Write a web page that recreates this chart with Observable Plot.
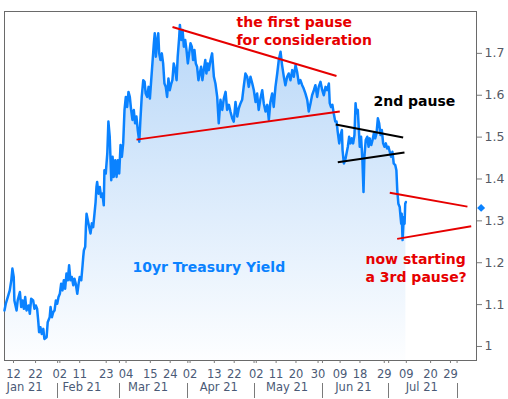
<!DOCTYPE html>
<html><head><meta charset="utf-8">
<script src="https://cdn.jsdelivr.net/npm/d3@7"></script>
<script src="https://cdn.jsdelivr.net/npm/@observablehq/plot@0.6"></script>
<style>body{margin:0;background:#fff}</style>
</head><body><div id="chart"></div>
<script>
// day-of-year (2021, fractional = intraday) and 10yr yield readings
const doy = [7.9,8.5,9.4,10.3,11.0,11.5,12.1,12.4,13.4,13.9,14.9,15.5,16.1,16.7,17.3,17.9,18.8,19.4,20.0,20.9,21.5,22.1,22.7,23.2,23.6,24.2,24.8,25.5,26.0,27.0,27.5,28.4,28.8,29.4,30.0,30.6,31.2,31.8,32.4,33.0,33.6,34.2,34.8,35.4,36.0,36.6,37.2,37.8,38.4,39.1,39.6,40.2,40.9,41.5,42.0,42.7,43.3,43.6,43.9,44.5,44.8,45.1,45.7,46.3,46.9,47.5,48.1,48.7,49.2,49.6,49.9,50.5,51.1,51.7,52.3,52.9,53.2,53.8,54.5,55.0,55.6,56.3,56.9,57.4,58.1,58.7,59.3,59.9,60.5,61.1,61.7,62.3,62.9,63.5,64.1,64.7,65.3,65.9,66.5,67.1,67.7,68.3,69.0,69.5,70.1,70.8,71.4,71.9,72.6,73.2,73.8,74.4,75.0,75.6,76.0,76.5,77.1,77.6,78.0,78.6,79.2,79.8,80.4,81.0,81.6,82.2,82.8,83.5,84.0,84.6,85.3,85.9,86.4,87.1,87.4,88.0,88.6,89.2,89.8,90.4,91.0,91.6,92.2,92.8,93.4,94.0,94.6,95.2,95.8,96.4,97.0,97.6,98.2,98.9,99.4,100.0,100.5,101.3,102.0,102.8,103.5,104.3,105.0,105.8,106.6,107.3,108.1,108.8,109.6,110.3,111.1,111.8,112.6,113.4,114.1,114.9,115.6,116.3,117.1,117.9,118.6,119.4,120.2,120.9,121.7,122.4,123.1,123.9,124.7,125.4,126.2,127.0,127.7,128.4,129.2,129.9,130.7,131.5,132.2,133.0,133.7,134.5,135.2,136.0,136.7,137.5,138.3,139.0,139.8,140.5,141.3,142.0,142.8,143.5,144.3,145.1,145.8,146.6,147.3,148.1,148.8,149.6,150.3,151.1,151.9,152.6,153.4,154.1,154.9,155.3,155.9,156.5,157.1,157.8,158.4,158.9,159.6,160.2,160.8,161.1,161.7,162.3,162.9,163.5,164.1,164.7,165.3,165.9,166.5,167.0,167.4,168.0,168.5,168.9,169.5,170.1,170.6,171.0,171.6,172.3,172.9,173.4,174.1,174.7,175.3,175.9,176.5,177.1,177.7,178.3,178.9,179.5,180.1,180.7,181.3,181.9,182.5,183.1,183.7,184.3,185.0,185.5,185.9,186.4,187.0,187.4,187.7,187.9,188.3,188.6,188.9,189.2,189.5,189.8];
const yld = [1.086,1.102,1.118,1.134,1.158,1.186,1.166,1.110,1.086,1.110,1.130,1.094,1.110,1.090,1.118,1.086,1.098,1.078,1.114,1.110,1.090,1.098,1.090,1.062,1.034,1.046,1.030,1.042,1.018,1.022,1.058,1.070,1.094,1.070,1.082,1.086,1.110,1.102,1.118,1.126,1.150,1.134,1.158,1.138,1.174,1.158,1.194,1.158,1.166,1.146,1.162,1.150,1.126,1.150,1.166,1.158,1.194,1.214,1.230,1.238,1.285,1.317,1.301,1.285,1.270,1.294,1.285,1.317,1.345,1.381,1.393,1.365,1.381,1.357,1.365,1.337,1.421,1.413,1.461,1.537,1.501,1.397,1.453,1.405,1.445,1.405,1.445,1.413,1.481,1.453,1.485,1.565,1.596,1.572,1.608,1.596,1.565,1.541,1.565,1.533,1.549,1.517,1.489,1.541,1.596,1.636,1.632,1.604,1.596,1.620,1.592,1.636,1.680,1.724,1.748,1.692,1.732,1.748,1.700,1.684,1.700,1.676,1.628,1.620,1.596,1.640,1.612,1.628,1.636,1.676,1.660,1.636,1.692,1.740,1.768,1.732,1.756,1.716,1.732,1.708,1.676,1.700,1.724,1.716,1.684,1.708,1.676,1.668,1.636,1.652,1.668,1.636,1.660,1.684,1.652,1.676,1.660,1.684,1.700,1.644,1.628,1.596,1.533,1.589,1.565,1.592,1.608,1.565,1.577,1.561,1.545,1.537,1.584,1.549,1.569,1.581,1.589,1.620,1.652,1.644,1.620,1.644,1.628,1.612,1.584,1.604,1.565,1.592,1.612,1.581,1.561,1.577,1.541,1.584,1.604,1.572,1.620,1.652,1.684,1.704,1.672,1.644,1.624,1.644,1.652,1.636,1.660,1.644,1.672,1.656,1.628,1.636,1.624,1.616,1.604,1.589,1.561,1.581,1.600,1.612,1.624,1.596,1.620,1.632,1.612,1.600,1.620,1.612,1.628,1.581,1.572,1.577,1.557,1.537,1.537,1.513,1.485,1.505,1.517,1.469,1.437,1.445,1.461,1.477,1.501,1.485,1.497,1.485,1.505,1.581,1.557,1.565,1.517,1.477,1.501,1.445,1.369,1.453,1.493,1.501,1.477,1.497,1.481,1.493,1.509,1.497,1.509,1.545,1.533,1.505,1.517,1.485,1.477,1.485,1.473,1.477,1.465,1.453,1.465,1.437,1.433,1.421,1.373,1.341,1.333,1.309,1.293,1.317,1.254,1.285,1.309,1.293,1.341,1.345];

// last-value marker on the right axis
const lastDoy = [223.9];
const lastVal = [1.331];

// trend lines (start/end in day-of-year and yield)
const trendX1 = [84.04, 67.73, 158.04, 158.94, 182.5, 185.86];
const trendY1 = [1.763, 1.494, 1.530, 1.440, 1.367, 1.257];
const trendX2 = [158.35, 159.85, 188.57, 189.16, 217.7, 219.4];
const trendY2 = [1.646, 1.561, 1.499, 1.463, 1.334, 1.287];
const trendKind = ["red", "red", "black", "black", "red", "red"];

// annotations
const annoText = ["the first pause\nfor consideration", "2nd pause", "now starting\na 3rd pause?", "10yr Treasury Yield"];
const annoDoy = [113.04, 175.1, 171.5, 65.9];
const annoVal = [1.756, 1.589, 1.190, 1.192];
const annoKind = ["red", "black", "red", "blue"];

// axes
const tickDates = ["2021-01-12","2021-01-22","2021-02-02","2021-02-11","2021-02-23","2021-03-04","2021-03-15","2021-03-24","2021-04-02","2021-04-13","2021-04-22","2021-05-02","2021-05-11","2021-05-20","2021-05-30","2021-06-09","2021-06-18","2021-06-29","2021-07-09","2021-07-20","2021-07-29"];
const monthStarts = ["2021-02-01","2021-03-01","2021-04-01","2021-05-01","2021-06-01","2021-07-01","2021-08-01"];
const monthLabels = ["Jan 21","Feb 21","Mar 21","Apr 21","May 21","Jun 21","Jul 21"];
const monthLabelDates = ["2021-01-17","2021-02-12","2021-03-14","2021-04-15","2021-05-16","2021-06-15","2021-07-16"];
const yTicks = [1, 1.1, 1.2, 1.3, 1.4, 1.5, 1.6, 1.7];
const yDomain = [0.9665, 1.8];
const xDomainDoy = [7.92, 221.8];

const colors = {red: "#e60000", black: "#000000", blue: "#0a82ff"};
const axisText = "#4a5a76";
const axisLine = "#7a7a7a";

const dateOf = d => new Date(Date.UTC(2021, 0, 1) + (d - 1) * 864e5);
const iso = s => new Date(s + "T00:00:00Z");

const data = doy.map((d, i) => ({date: dateOf(d), value: yld[i]}));
const trends = trendX1.map((d, i) => ({x1: dateOf(d), y1: trendY1[i], x2: dateOf(trendX2[i]), y2: trendY2[i], c: colors[trendKind[i]]}));
const annos = annoText.map((t, i) => ({x: dateOf(annoDoy[i]), y: annoVal[i], text: t, c: colors[annoKind[i]]}));
const lastPt = lastDoy.map((d, i) => ({x: dateOf(d), y: lastVal[i]}));
const months = monthLabels.map((t, i) => ({x: iso(monthLabelDates[i]), text: t}));

const defs = () => {
  const s = d3.create("svg:defs");
  const g = s.append("linearGradient").attr("id", "yldGrad")
    .attr("x1", 0).attr("x2", 0).attr("y1", 0).attr("y2", 1);
  g.append("stop").attr("offset", "0%").attr("stop-color", "#b8d7f8");
  g.append("stop").attr("offset", "100%").attr("stop-color", "#fdfeff");
  return s.node();
};

const separators = (index, scales, values, dims) => {
  const g = d3.create("svg:g").attr("stroke", axisLine).attr("stroke-width", 1);
  const yb = dims.height - dims.marginBottom;
  for (const m of monthStarts) {
    const x = Math.round(scales.x(iso(m))) + 0.5;
    g.append("line").attr("x1", x).attr("x2", x).attr("y1", yb + 23).attr("y2", yb + 38);
  }
  return g.node();
};

const chart = Plot.plot({
  width: 508, height: 399,
  marginLeft: 4, marginRight: 32, marginTop: 11, marginBottom: 39,
  style: {fontFamily: "DejaVu Sans", fontSize: "11px", background: "#fff", overflow: "visible"},
  x: {type: "utc", domain: xDomainDoy.map(dateOf), axis: null},
  y: {domain: yDomain, axis: null},
  marks: [
    defs,
    Plot.areaY(data, {x: "date", y1: yDomain[0], y2: "value", fill: "url(#yldGrad)"}),
    Plot.frame({stroke: "#6a6a6a"}),
    Plot.line(data, {x: "date", y: "value", stroke: colors.blue, strokeWidth: 2.5}),
    Plot.link(trends, {x1: "x1", y1: "y1", x2: "x2", y2: "y2", stroke: "c", strokeWidth: 2}),
    Plot.text(annos, {x: "x", y: "y", text: "text", fill: "c", textAnchor: "start", fontWeight: "bold", fontSize: 14, lineHeight: 1.3}),
    Plot.dot(lastPt, {x: "x", y: "y", symbol: "diamond2", r: 3.6, fill: colors.blue, stroke: null}),
    Plot.axisX({ticks: tickDates.map(iso), tickSize: 3, tickPadding: 6, tickFormat: d3.utcFormat("%d"), fontSize: 11.5, stroke: axisLine, fill: axisText}),
    Plot.axisX({ticks: monthStarts.map(iso), tickSize: 3, tickFormat: () => "", stroke: axisLine}),
    Plot.text(months, {x: "x", text: "text", frameAnchor: "bottom", dy: 30, fontSize: 11.5, fill: axisText}),
    separators,
    Plot.axisY({anchor: "right", ticks: yTicks, tickSize: 5, tickPadding: 3, tickFormat: d3.format("~g"), fontSize: 12.5, stroke: axisLine, fill: "#555a66"})
  ]
});
document.getElementById("chart").appendChild(chart);
</script>
</body></html>
